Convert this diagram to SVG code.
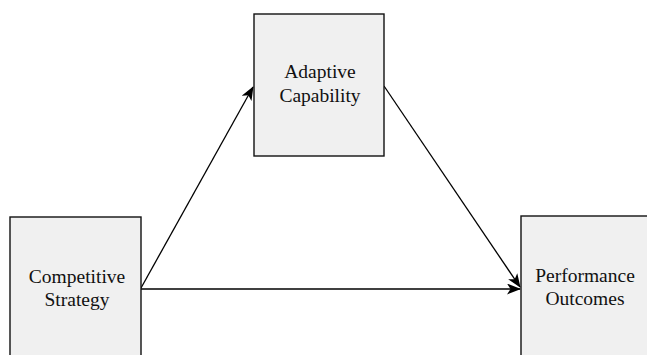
<svg xmlns="http://www.w3.org/2000/svg" width="647" height="355" viewBox="0 0 647 355">
<style>
.box{fill:#f0f0f0;stroke:#111;stroke-width:1.4}
.lbl{font-family:"Liberation Serif","DejaVu Serif",serif;font-size:19.5px;fill:#111;text-anchor:middle}
.con{stroke:#000;stroke-width:1.3;fill:none}
</style>
<defs>
<marker id="ah" viewBox="0 0 14 11" refX="13" refY="5.5" markerWidth="14" markerHeight="11" markerUnits="userSpaceOnUse" orient="auto">
<path d="M0,0 L14,5.5 L0,11 L3.5,5.5 z" fill="#000"/>
</marker>
</defs>
<rect width="647" height="355" fill="#fff"/>
<g id="connectors">
<line class="con" x1="141" y1="288" x2="253" y2="87" marker-end="url(#ah)"/>
<line class="con" x1="141" y1="289" x2="520" y2="289" marker-end="url(#ah)"/>
<line class="con" x1="384" y1="86" x2="520" y2="287" marker-end="url(#ah)"/>
</g>
<g id="adaptive">
<rect class="box" x="254" y="14" width="130" height="142"/>
<text class="lbl" x="320" y="78">Adaptive</text>
<text class="lbl" x="320" y="102">Capability</text>
</g>
<g id="competitive">
<rect class="box" x="10" y="217" width="131" height="150"/>
<text class="lbl" x="77" y="283">Competitive</text>
<text class="lbl" x="77" y="306">Strategy</text>
</g>
<g id="performance">
<rect class="box" x="521" y="216" width="131" height="150"/>
<text class="lbl" x="585" y="282">Performance</text>
<text class="lbl" x="585" y="305">Outcomes</text>
</g>
</svg>
